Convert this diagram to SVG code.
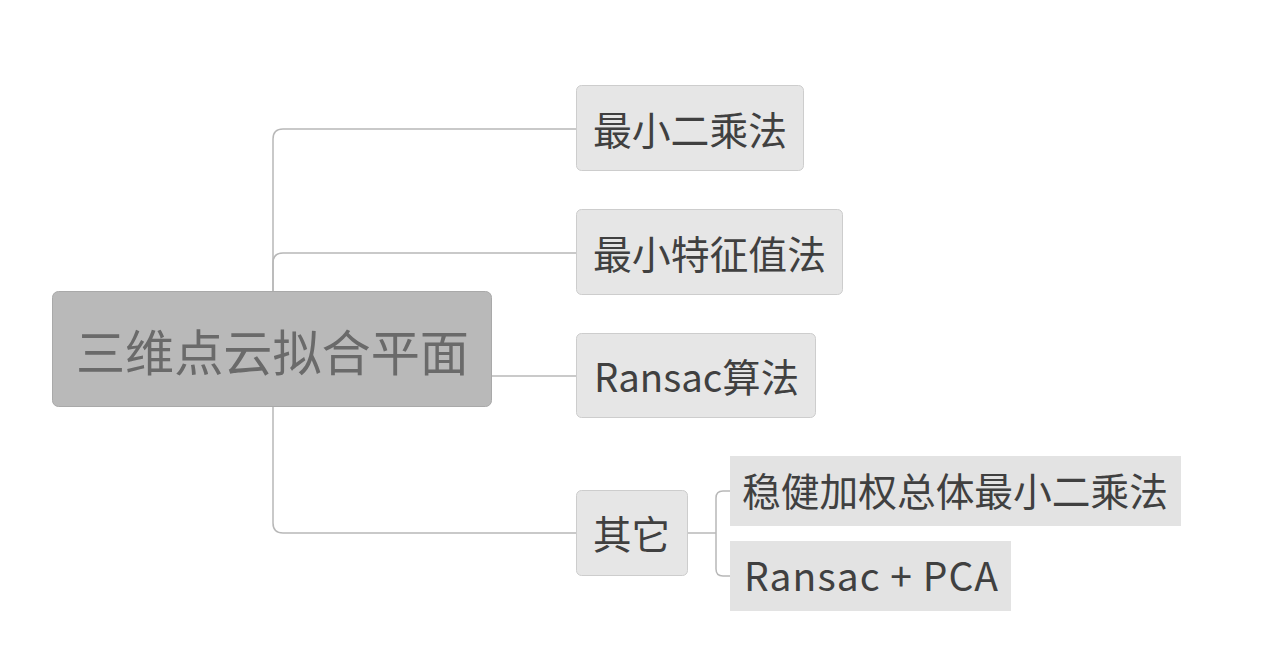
<svg xmlns="http://www.w3.org/2000/svg" width="1267" height="661" viewBox="0 0 1267 661">
<style>
.bg{fill:#ffffff}
.line{fill:none;stroke:#b8b8b8;stroke-width:1.5}
.box{fill:#e6e6e6;stroke:#cdcdcd;stroke-width:1}
.sub{fill:#e3e3e3}
.root{fill:#b9b9b9;stroke:#a9a9a9;stroke-width:1}
.t{font-family:"Noto Sans CJK SC","Noto Sans",sans-serif;font-size:39px;fill:#404040}
.rt{font-family:"Noto Sans CJK SC","Noto Sans",sans-serif;font-size:49px;fill:#6a6a6a}
</style>
<rect class="bg" x="0" y="0" width="1267" height="661"/>
<g id="connectors">
<path class="line" d="M576,129 H283 Q273,129 273,139 V523 Q273,533 283,533 H576"/>
<path class="line" d="M576,253 H283 Q273,253 273,263 V291"/>
<path class="line" d="M492,376 H576"/>
<path class="line" d="M688,533 H716"/>
<path class="line" d="M730,491 H723 Q716,491 716,498 V569 Q716,576 723,576 H730"/>
</g>
<g id="root">
<rect class="root" x="52.500" y="291.500" width="439" height="115" rx="6"/>
<text class="rt" x="76" y="371" textLength="393" lengthAdjust="spacingAndGlyphs">三维点云拟合平面</text>
</g>
<g id="n1">
<rect class="box" x="576.500" y="85.500" width="227" height="85" rx="5"/>
<text class="t" x="593" y="145" textLength="194" lengthAdjust="spacingAndGlyphs">最小二乘法</text>
</g>
<g id="n2">
<rect class="box" x="576.500" y="209.500" width="266" height="85" rx="5"/>
<text class="t" x="593" y="269" textLength="233" lengthAdjust="spacingAndGlyphs">最小特征值法</text>
</g>
<g id="n3">
<rect class="box" x="576.500" y="333.500" width="239" height="84" rx="5"/>
<text class="t" x="594" y="392" textLength="205" lengthAdjust="spacingAndGlyphs">Ransac算法</text>
</g>
<g id="n4">
<rect class="box" x="576.500" y="490.500" width="111" height="85" rx="5"/>
<text class="t" x="593" y="549" textLength="77" lengthAdjust="spacingAndGlyphs">其它</text>
</g>
<g id="n5">
<rect class="sub" x="730" y="456" width="451" height="70"/>
<text class="t" x="742" y="506" textLength="426" lengthAdjust="spacingAndGlyphs">稳健加权总体最小二乘法</text>
</g>
<g id="n6">
<rect class="sub" x="730" y="541" width="281" height="70"/>
<text class="t" x="744" y="591" textLength="254" lengthAdjust="spacing">Ransac + PCA</text>
</g>
</svg>
